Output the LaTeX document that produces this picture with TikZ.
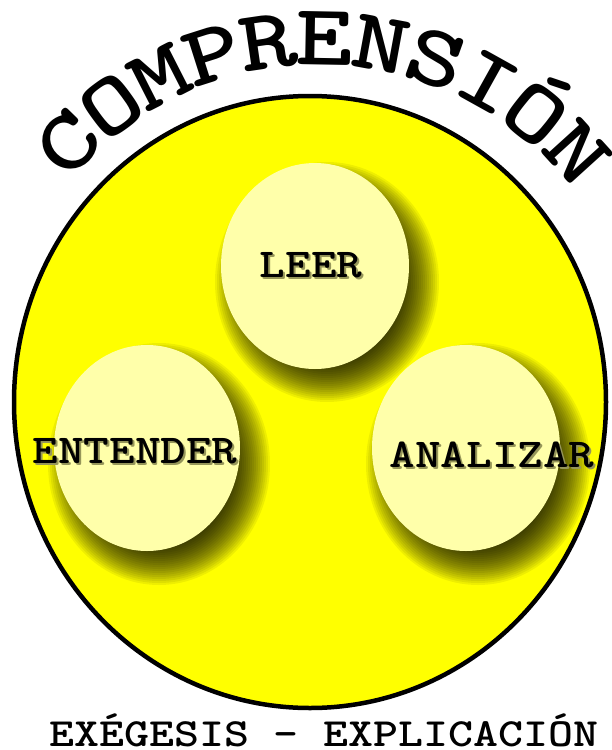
\documentclass[tikz,border=0pt]{standalone}
\usepackage{fontspec}
\newfontfamily\courA{lmmonolt10}[Extension=.otf, UprightFont=*-regular, BoldFont=*-bold, FakeStretch=1.19]
\newfontfamily\courB{lmmonolt10}[Extension=.otf, UprightFont=*-regular, BoldFont=*-bold, FakeStretch=1.25]
\usetikzlibrary{shapes.geometric}
\definecolor{bigyellow}{RGB}{255,255,0}
\definecolor{paleyellow}{RGB}{255,255,170}
\definecolor{textshade}{RGB}{150,150,90}
\tikzset{
  bigdisc/.style={ellipse, draw=black, line width=4.5pt, fill=bigyellow, inner sep=0pt, outer sep=0pt, minimum width=592pt, minimum height=612pt},
  smalldisc/.style={ellipse, fill=paleyellow, inner sep=0pt, outer sep=0pt, minimum width=188pt, minimum height=206pt},
  disclabel/.style={font=\courA\bfseries\fontsize{41}{43}\selectfont, anchor=base, inner sep=0pt, text=black},
  labelshade/.style={disclabel, text=textshade},
  arcletter/.style={font=\courB\bfseries\fontsize{87}{90}\selectfont, anchor=base, inner sep=0pt, text=black},
  footlabel/.style={font=\courA\bfseries\fontsize{40}{42}\selectfont, anchor=base, inner sep=0pt, text=black}
}
\begin{document}
\begin{tikzpicture}[x=1pt,y=1pt]
\useasboundingbox (0,0) rectangle (612,-750);
\fill[white] (0,0) rectangle (612,-750);
% big disc
\node[bigdisc] (big) at (310,-402) {};
% shadows clipped to the big disc
\begin{scope}
  \clip (310,-402) ellipse [x radius=294, y radius=304];
  \foreach \cx/\cy/\rx/\ry in {315/266/94/102, 147/448/93/103, 466/448/94/103} {
    \foreach \k in {0,...,20} {
      \pgfmathsetmacro\s{18-2*\k}
      \fill[black, fill opacity=0.068] (\cx+12,-\cy-16) ellipse [x radius=\rx+\s, y radius=\ry+\s];
    }
  }
\end{scope}
% small discs
\node[smalldisc] (leer) at (315,-266) {};
\node[smalldisc, minimum width=186pt] (entender) at (147,-448) {};
\node[smalldisc] (analizar) at (466,-448) {};
% label shadows
\node[labelshade] (leershade) at (313,-279) {LEER};
\node[labelshade] (entendershade) at (137,-465) {ENTENDER};
\node[labelshade] (analizarshade) at (494,-469) {ANALIZAR};
% labels
\node[disclabel] (leertxt) at (311,-277) {LEER};
\node[disclabel] (entendertxt) at (135,-463) {ENTENDER};
\node[disclabel] (analizartxt) at (492,-467) {ANALIZAR};
% arched title
\foreach \ch [count=\i from 0] in {C,O,M,P,R,E,N,S,I,Ó,N} {
  \pgfmathsetmacro\a{135.7-9.35*\i}
  \node[arcletter, rotate=\a-90] (cl\i) at ([shift={(318.3,-387.6)}]\a:322.5) {\ch};
}
% footer
\node[footlabel] (foot) at (324,-746) {EXÉGESIS - EXPLICACIÓN};
\end{tikzpicture}
\end{document}
